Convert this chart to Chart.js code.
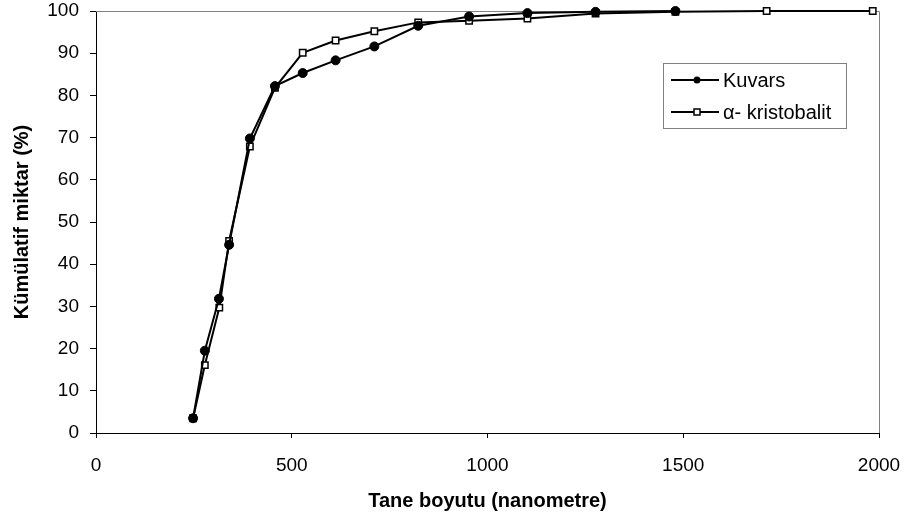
<html lang="tr">
<head>
    <meta charset="UTF-8">
    <title>Kümülatif miktar</title>
    <script src="https://cdn.jsdelivr.net/npm/chart.js"></script>
    <style>
        body {
            margin: 0;
            background: #fff;
        }
        #wrap {
            width: 907px;
            height: 525px;
        }
    </style>
</head>
<body>
    <div id="wrap"><canvas id="grafik" width="907" height="525"></canvas></div>

    <script>
        // tane boyutu (nm) ve kümülatif miktar (%)
        const boyutKuvars = [248, 278, 314, 340, 393, 457, 528, 612, 711, 823, 953, 1102, 1276, 1480];
        const kuvars = [3.5, 19.5, 31.8, 44.6, 69.8, 82.2, 85.3, 88.3, 91.6, 96.5, 98.7, 99.5, 99.8, 100];

        const boyutKristobalit = [248, 278, 315, 340, 393, 457, 528, 612, 711, 823, 953, 1102, 1276, 1480, 1713, 1984];
        const kristobalit = [3.5, 16.1, 29.7, 45.5, 67.9, 81.8, 90.1, 93.0, 95.2, 97.3, 97.7, 98.2, 99.4, 99.8, 100, 100];

        const seriAdlari = ['Kuvars', 'α- kristobalit'];
        const xEtiket = 'Tane boyutu (nanometre)';
        const yEtiket = 'Kümülatif miktar (%)';

        const yazi = '"Liberation Sans", Arial, sans-serif';

        function noktalar(xs, ys) {
            return xs.map((x, i) => ({ x: x, y: ys[i] }));
        }

        // çerçevenin üst ve sağ kenarı (gri)
        const cerceve = {
            id: 'cerceve',
            beforeDatasetsDraw(chart) {
                const { ctx, chartArea: a } = chart;
                ctx.save();
                ctx.strokeStyle = '#808080';
                ctx.lineWidth = 1;
                ctx.beginPath();
                ctx.moveTo(a.left, a.top + 0.5);
                ctx.lineTo(a.right + 0.5, a.top + 0.5);
                ctx.lineTo(a.right + 0.5, a.bottom);
                ctx.stroke();
                ctx.restore();
            }
        };

        // grafik içindeki lejant kutusu
        const lejant = {
            id: 'lejant',
            afterDraw(chart) {
                const ctx = chart.ctx;
                const kx = 663, ky = 63, kw = 183, kh = 65;
                ctx.save();
                ctx.fillStyle = '#fff';
                ctx.fillRect(kx, ky, kw, kh);
                ctx.strokeStyle = '#808080';
                ctx.lineWidth = 1;
                ctx.strokeRect(kx + 0.5, ky + 0.5, kw, kh);
                ctx.font = '20px ' + yazi;
                ctx.textBaseline = 'middle';
                chart.data.datasets.forEach((ds, i) => {
                    const y = 80 + i * 32;
                    ctx.strokeStyle = '#000';
                    ctx.lineWidth = 2;
                    ctx.beginPath();
                    ctx.moveTo(671, y);
                    ctx.lineTo(719, y);
                    ctx.stroke();
                    if (ds.pointStyle === 'circle') {
                        ctx.fillStyle = '#000';
                        ctx.beginPath();
                        ctx.arc(697, y, 3.5, 0, Math.PI * 2);
                        ctx.fill();
                    } else {
                        ctx.fillStyle = '#fff';
                        ctx.lineWidth = 1.5;
                        ctx.fillRect(694, y - 3, 6, 6);
                        ctx.strokeRect(694, y - 3, 6, 6);
                    }
                    ctx.fillStyle = '#000';
                    ctx.fillText(ds.label, 723, y + 1);
                });
                ctx.restore();
            }
        };

        const ctx = document.getElementById('grafik').getContext('2d');
        const grafik = new Chart(ctx, {
            type: 'scatter',
            data: {
                datasets: [{
                    label: seriAdlari[0],
                    data: noktalar(boyutKuvars, kuvars),
                    showLine: true,
                    borderColor: '#000',
                    borderWidth: 2,
                    pointStyle: 'circle',
                    pointRadius: 4.5,
                    pointBackgroundColor: '#000',
                    pointBorderColor: '#000',
                    pointBorderWidth: 1,
                    clip: false
                }, {
                    label: seriAdlari[1],
                    data: noktalar(boyutKristobalit, kristobalit),
                    showLine: true,
                    borderColor: '#000',
                    borderWidth: 2,
                    pointStyle: 'rect',
                    pointRadius: 4.5,
                    pointBackgroundColor: '#fff',
                    pointBorderColor: '#000',
                    pointBorderWidth: 1.5,
                    clip: false
                }]
            },
            options: {
                responsive: false,
                animation: false,
                events: [],
                layout: {
                    padding: { top: 11, right: 28, left: 0, bottom: 0 }
                },
                plugins: {
                    legend: { display: false },
                    tooltip: { enabled: false }
                },
                scales: {
                    x: {
                        type: 'linear',
                        min: 0,
                        max: 2000,
                        afterFit: s => {
                            s.height = 92;
                            s.paddingLeft = 0;
                            s.paddingRight = 0;
                        },
                        ticks: {
                            stepSize: 500,
                            color: '#000',
                            padding: 16,
                            maxRotation: 0,
                            callback: v => String(v),
                            font: { family: yazi, size: 19 }
                        },
                        grid: {
                            drawOnChartArea: false,
                            tickLength: 5,
                            tickColor: '#000'
                        },
                        border: { color: '#000', width: 1 },
                        title: {
                            display: true,
                            text: xEtiket,
                            color: '#000',
                            padding: { top: 0, bottom: 12 },
                            font: { family: yazi, size: 20, weight: 'bold' }
                        }
                    },
                    y: {
                        min: 0,
                        max: 100,
                        afterFit: s => {
                            s.width = 96;
                            s.paddingTop = 0;
                            s.paddingBottom = 0;
                        },
                        ticks: {
                            stepSize: 10,
                            color: '#000',
                            padding: 11,
                            font: { family: yazi, size: 19 }
                        },
                        grid: {
                            drawOnChartArea: false,
                            tickLength: 6,
                            tickColor: '#000'
                        },
                        border: { color: '#000', width: 1 },
                        title: {
                            display: true,
                            text: yEtiket,
                            color: '#000',
                            padding: { top: 10, bottom: 0 },
                            font: { family: yazi, size: 20, weight: 'bold' }
                        }
                    }
                }
            },
            plugins: [cerceve, lejant]
        });
    </script>
</body>
</html>
